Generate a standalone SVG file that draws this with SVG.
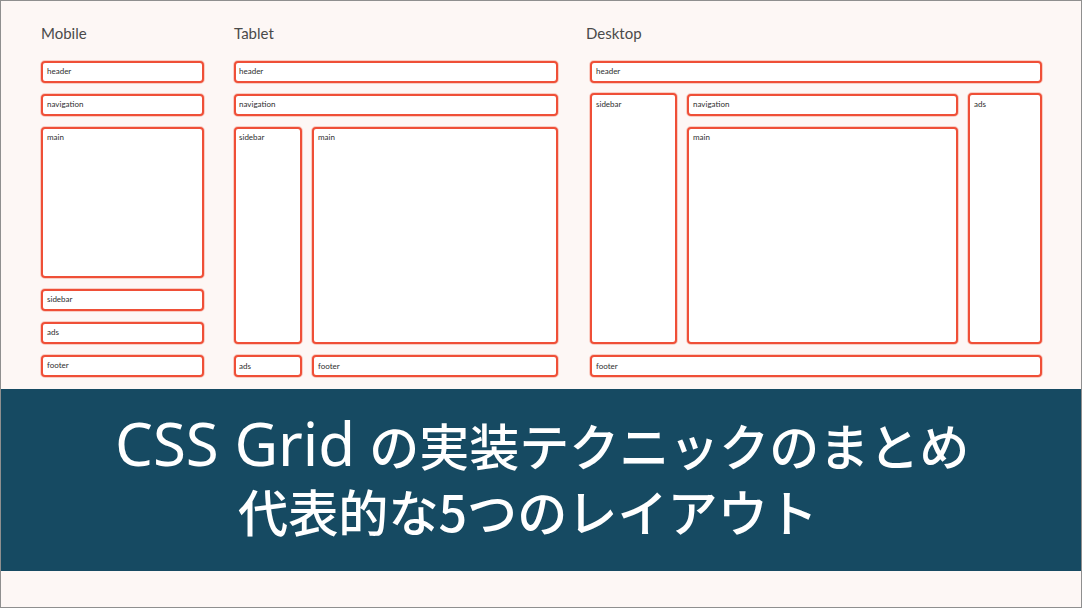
<svg xmlns="http://www.w3.org/2000/svg" width="1082" height="608" viewBox="0 0 1082 608">
<style>
.box{fill:#ffffff;stroke:#ef4f37;stroke-width:2;}
.glow{fill:none;stroke:#f59a8a;stroke-width:4;opacity:0.45;}
.lbl{font-family:"Lato","Noto Sans",sans-serif;font-size:8px;fill:#2e2e2e;}
.hd{font-family:"Lato","Noto Sans",sans-serif;font-size:15px;fill:#4a4a4a;}
.ttl{font-family:"Noto Sans CJK JP",sans-serif;font-weight:500;fill:#ffffff;}
</style>
<rect x="0" y="0" width="1082" height="608" fill="#fdf7f5"/>

<text class="hd" x="41" y="39">Mobile</text>
<text class="hd" x="234" y="39">Tablet</text>
<text class="hd" x="586" y="39">Desktop</text>

<g id="mobile">
<g id="m-header"><rect class="glow" x="42" y="62" width="161" height="20" rx="3"/><rect class="box" x="42" y="62" width="161" height="20" rx="3"/><text class="lbl" x="47" y="74">header</text></g>
<g id="m-navigation"><rect class="glow" x="42" y="95" width="161" height="20" rx="3"/><rect class="box" x="42" y="95" width="161" height="20" rx="3"/><text class="lbl" x="47" y="107">navigation</text></g>
<g id="m-main"><rect class="glow" x="42" y="128" width="161" height="149" rx="3"/><rect class="box" x="42" y="128" width="161" height="149" rx="3"/><text class="lbl" x="47" y="140">main</text></g>
<g id="m-sidebar"><rect class="glow" x="42" y="290" width="161" height="20" rx="3"/><rect class="box" x="42" y="290" width="161" height="20" rx="3"/><text class="lbl" x="47" y="302">sidebar</text></g>
<g id="m-ads"><rect class="glow" x="42" y="323" width="161" height="20" rx="3"/><rect class="box" x="42" y="323" width="161" height="20" rx="3"/><text class="lbl" x="47" y="335">ads</text></g>
<g id="m-footer"><rect class="glow" x="42" y="356" width="161" height="20" rx="3"/><rect class="box" x="42" y="356" width="161" height="20" rx="3"/><text class="lbl" x="47" y="368">footer</text></g>
</g>

<g id="tablet">
<g id="t-header"><rect class="glow" x="235" y="62" width="322" height="20" rx="3"/><rect class="box" x="235" y="62" width="322" height="20" rx="3"/><text class="lbl" x="239" y="74">header</text></g>
<g id="t-navigation"><rect class="glow" x="235" y="95" width="322" height="20" rx="3"/><rect class="box" x="235" y="95" width="322" height="20" rx="3"/><text class="lbl" x="239" y="107">navigation</text></g>
<g id="t-sidebar"><rect class="glow" x="235" y="128" width="66" height="215" rx="3"/><rect class="box" x="235" y="128" width="66" height="215" rx="3"/><text class="lbl" x="239" y="140">sidebar</text></g>
<g id="t-main"><rect class="glow" x="313" y="128" width="244" height="215" rx="3"/><rect class="box" x="313" y="128" width="244" height="215" rx="3"/><text class="lbl" x="318" y="140">main</text></g>
<g id="t-ads"><rect class="glow" x="235" y="356" width="66" height="20" rx="3"/><rect class="box" x="235" y="356" width="66" height="20" rx="3"/><text class="lbl" x="239" y="369">ads</text></g>
<g id="t-footer"><rect class="glow" x="313" y="356" width="244" height="20" rx="3"/><rect class="box" x="313" y="356" width="244" height="20" rx="3"/><text class="lbl" x="318" y="369">footer</text></g>
</g>

<g id="desktop">
<g id="d-header"><rect class="glow" x="591" y="62" width="450" height="20" rx="3"/><rect class="box" x="591" y="62" width="450" height="20" rx="3"/><text class="lbl" x="596" y="74">header</text></g>
<g id="d-sidebar"><rect class="glow" x="591" y="94" width="85" height="249" rx="3"/><rect class="box" x="591" y="94" width="85" height="249" rx="3"/><text class="lbl" x="596" y="107">sidebar</text></g>
<g id="d-navigation"><rect class="glow" x="688" y="95" width="269" height="20" rx="3"/><rect class="box" x="688" y="95" width="269" height="20" rx="3"/><text class="lbl" x="693" y="107">navigation</text></g>
<g id="d-main"><rect class="glow" x="688" y="128" width="269" height="215" rx="3"/><rect class="box" x="688" y="128" width="269" height="215" rx="3"/><text class="lbl" x="693" y="140">main</text></g>
<g id="d-ads"><rect class="glow" x="969" y="94" width="72" height="249" rx="3"/><rect class="box" x="969" y="94" width="72" height="249" rx="3"/><text class="lbl" x="974" y="107">ads</text></g>
<g id="d-footer"><rect class="glow" x="591" y="356" width="450" height="20" rx="3"/><rect class="box" x="591" y="356" width="450" height="20" rx="3"/><text class="lbl" x="596" y="369">footer</text></g>
</g>

<g id="connectors"/>

<g id="banner">
<rect x="0" y="389" width="1082" height="182" fill="#164a62"/>
<text class="ttl" x="115" y="466"><tspan font-family="Noto Sans, sans-serif" font-size="60" font-weight="400">CSS Grid</tspan><tspan font-size="50" dx="14">の実装テクニックのまとめ</tspan></text>
<text class="ttl" x="238" y="532" font-size="50" textLength="580" lengthAdjust="spacingAndGlyphs">代表的な5つのレイアウト</text>
</g>

<rect x="0.5" y="0.5" width="1081" height="607" fill="none" stroke="#8f8f8f" stroke-width="1"/>
</svg>
